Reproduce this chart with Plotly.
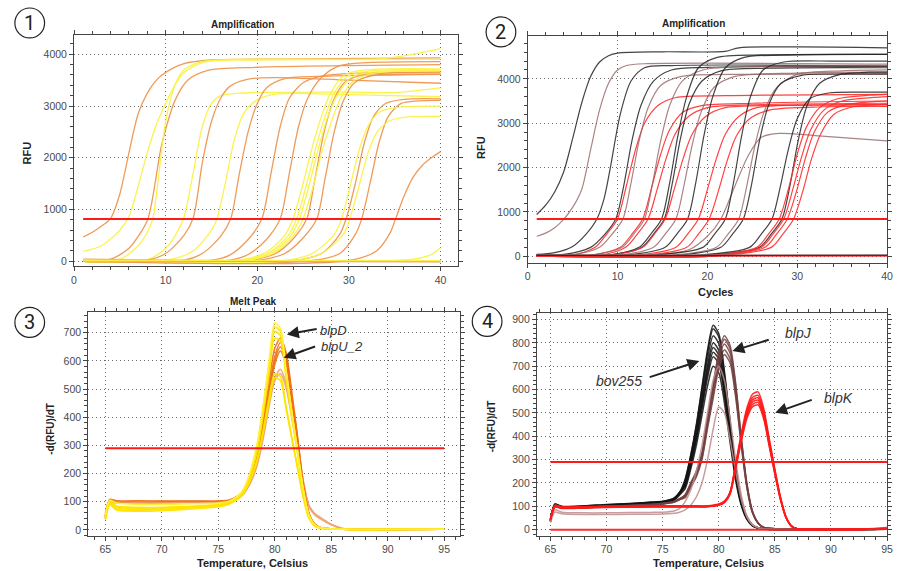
import plotly.graph_objects as go

# ---------------- DATA ----------------
# Panel 1: amplification (cycles, RFU) – key points
AMP1_GROUP = ["orange", "yellow", "orange", "yellow", "yellow", "orange", "yellow", "orange",
              "orange", "orange", "orange", "orange", "yellow", "yellow", "yellow", "yellow",
              "orange", "orange", "yellow", "yellow", "orange", "yellow", "orange", "orange", "yellow"]
AMP1_X = [
    [1, 2, 3, 4, 5, 6, 7, 8, 9, 10, 12, 15, 25, 40],
    [1, 3, 5, 6, 7, 8, 9, 10, 11, 12, 14, 17, 33, 36, 40],
    [1, 4, 6, 7, 8, 8.5, 9.5, 10, 11, 12.4, 14.6, 20, 40],
    [1, 5, 7, 8, 8.6, 9, 10, 11, 12, 14, 20, 40],
    [1, 8, 10, 11, 12, 13, 14, 15, 16, 18, 30, 35, 40],
    [1, 8, 10, 12, 13, 14, 15, 16, 17, 19, 22, 30, 40],
    [1, 10, 13, 15, 15.6, 16.5, 17.5, 18.5, 20, 22, 30, 40],
    [1, 12, 14, 16, 17.1, 18, 19, 20, 21, 23, 28, 40],
    [1, 15, 17, 19, 20.5, 21.5, 22.5, 23.5, 25, 27, 32, 40],
    [1, 17, 19, 21, 22.5, 23.5, 24.5, 25.5, 27, 29, 32, 40],
    [1, 19, 22, 24, 25.4, 26.3, 27.3, 28.3, 29.5, 31.5, 35, 40],
    [1, 20, 23, 25, 26.5, 27.4, 28.4, 29.4, 30.6, 32.6, 36, 40],
    [1, 18, 21, 23, 23.9, 25, 26, 27, 28, 29.5, 32, 40],
    [1, 18.4, 21.4, 23.4, 24.3, 25.4, 26.4, 27.4, 28.4, 29.9, 32.4, 40],
    [1, 18.7, 21.7, 23.7, 24.6, 25.7, 26.7, 27.7, 28.7, 30.2, 32.7, 40],
    [1, 19, 22, 24, 25, 26.1, 27.1, 28.1, 29.1, 30.6, 33, 40],
    [1, 24, 27, 29, 29.7, 30.7, 31.7, 32.7, 34, 36, 40],
    [1, 26, 29, 30.7, 31.4, 32.3, 33.3, 34.3, 35.7, 37.5, 40],
    [1, 23, 26, 28.4, 29.2, 30.2, 31.2, 32.2, 33.5, 35.5, 40],
    [1, 24, 27, 29.4, 30.1, 31.1, 32.1, 33.1, 34.5, 36.5, 40],
    [1, 30, 33, 34.5, 35.1, 36, 37, 38, 39, 40],
    [1, 34, 37, 39, 40],
    [1, 10, 20, 30, 40],
    [1, 20, 40],
    [1, 20, 40],
]
AMP1_Y = [
    [470, 560, 680, 830, 1300, 2100, 2850, 3250, 3500, 3650, 3820, 3890, 3910, 3930],
    [190, 300, 600, 870, 1450, 2100, 2650, 3050, 3400, 3650, 3840, 3900, 3910, 3970, 4110],
    [5, 40, 250, 480, 790, 1150, 2200, 2550, 3100, 3500, 3690, 3750, 3800],
    [0, 40, 300, 560, 820, 1300, 2700, 3400, 3700, 3860, 3890, 3900],
    [0, 30, 250, 480, 850, 1700, 2600, 3050, 3200, 3250, 3270, 3260, 3350],
    [0, 20, 150, 500, 830, 1900, 2700, 3150, 3380, 3520, 3550, 3500, 3440],
    [0, 20, 200, 600, 820, 1500, 2350, 2850, 3120, 3230, 3220, 3180],
    [0, 20, 150, 480, 820, 1650, 2500, 3050, 3350, 3530, 3580, 3610],
    [0, 20, 120, 420, 820, 1700, 2600, 3150, 3450, 3580, 3640, 3660],
    [0, 20, 130, 420, 820, 1700, 2600, 3150, 3550, 3780, 3840, 3860],
    [0, 15, 150, 450, 820, 1600, 2500, 3100, 3450, 3600, 3640, 3640],
    [0, 15, 150, 450, 820, 1600, 2500, 3100, 3450, 3590, 3610, 3610],
    [0, 20, 180, 500, 820, 1500, 2200, 2800, 3250, 3600, 3700, 3720],
    [0, 20, 180, 500, 820, 1500, 2200, 2800, 3250, 3580, 3680, 3700],
    [0, 20, 180, 500, 820, 1500, 2200, 2800, 3200, 3550, 3660, 3690],
    [0, 20, 180, 500, 820, 1450, 2150, 2700, 3150, 3500, 3640, 3680],
    [0, 15, 150, 520, 820, 1500, 2300, 2800, 3050, 3130, 3140],
    [0, 15, 150, 520, 820, 1500, 2300, 2800, 3050, 3100, 3110],
    [0, 15, 150, 520, 820, 1500, 2200, 2650, 2900, 2980, 3000],
    [0, 15, 150, 520, 820, 1450, 2100, 2500, 2720, 2790, 2800],
    [0, 15, 200, 550, 820, 1250, 1620, 1850, 2000, 2120],
    [0, 10, 40, 130, 260],
    [40, 20, 10, 5, 0],
    [10, 0, -10],
    [20, 15, 10],
]
AMP1_THRESHOLD = 815

# Panel 2: amplification (cycles, RFU)
AMP2_GROUP = ["black", "brown", "black", "black", "red", "brown", "red", "brown", "red", "black",
              "black", "red", "brown", "black", "red", "red", "brown", "black", "brown", "black",
              "black", "black", "red", "red", "red", "red", "red", "brown", "black"]
AMP2_X = [
    [1, 2, 3, 4, 5, 6, 7, 8, 9, 10, 15, 22, 23.5, 30, 40],
    [1, 2, 3, 4, 5, 6, 7, 8, 9, 10, 11, 13, 40],
    [1, 3, 5, 6.5, 7.7, 8.5, 9.2, 10.3, 11.5, 13, 16, 40],
    [1, 4, 7, 8.6, 9.8, 10.7, 11.6, 12.6, 14, 16, 20, 40],
    [1, 5, 7.5, 8.8, 10, 11, 12, 13, 14.5, 16.5, 22, 40],
    [1, 5, 8, 9.4, 10.6, 11.5, 12.4, 13.4, 14.8, 17, 25, 40],
    [1, 7, 10.3, 11.6, 12.8, 13.8, 14.8, 15.8, 17.3, 19.5, 25, 40],
    [1, 7, 10.5, 11.8, 13, 13.9, 14.8, 15.8, 17.2, 19.5, 26, 40],
    [1, 8, 10.9, 12.2, 13.4, 14.4, 15.4, 16.4, 17.9, 20, 26, 40],
    [1, 9, 12.4, 13.7, 14.9, 15.8, 16.7, 17.7, 19, 21, 26, 40],
    [1, 9, 12.7, 14, 15.2, 16.1, 17, 18, 19.4, 21.5, 27, 40],
    [1, 9, 12.8, 14.1, 15.3, 16.3, 17.3, 18.3, 19.8, 22, 28, 40],
    [1, 10, 14, 15.3, 16.5, 17.4, 18.3, 19.3, 20.7, 23, 30, 40],
    [1, 11, 15.3, 16.6, 17.8, 18.7, 19.6, 20.6, 22, 24, 30, 40],
    [1, 12, 16.5, 17.8, 19, 20, 21, 22, 23.5, 25.5, 32, 40],
    [1, 13, 17.7, 19, 20.2, 21.2, 22.2, 23.2, 24.7, 27, 33, 40],
    [1, 14, 18, 20, 21.5, 23, 24.5, 26, 28, 32, 40],
    [1, 14, 19.5, 20.8, 22, 22.9, 23.8, 24.8, 26.2, 28.5, 34, 40],
    [1, 16, 21, 22.3, 23.5, 24.4, 25.3, 26.3, 27.7, 30, 35, 40],
    [1, 17, 21.5, 22.8, 24, 24.9, 25.8, 26.8, 28.2, 30.5, 35, 40],
    [1, 19, 24.7, 26, 27.2, 28.1, 29, 30, 31.4, 33.5, 37, 40],
    [1, 20, 25.8, 27.1, 28.3, 29.2, 30.1, 31.1, 32.5, 34.8, 38, 40],
    [1, 20, 25.5, 26.8, 28, 29, 30, 31, 32.5, 34.5, 38, 40],
    [1, 20, 26, 27.3, 28.5, 29.5, 30.5, 31.5, 33, 35, 38.5, 40],
    [1, 21, 26.4, 27.7, 28.9, 29.9, 30.9, 31.9, 33.4, 35.5, 39, 40],
    [1, 21, 27.1, 28.4, 29.6, 30.6, 31.6, 32.6, 34.1, 36.2, 39, 40],
    [1, 20, 40],
    [1, 20, 40],
    [1, 20, 40],
]
AMP2_Y = [
    [940, 1150, 1450, 1900, 2650, 3450, 4050, 4380, 4520, 4580, 4610, 4620, 4700, 4720, 4700],
    [450, 520, 640, 830, 1100, 1500, 2400, 3300, 3900, 4200, 4300, 4340, 4330],
    [40, 80, 220, 500, 840, 1300, 2000, 3200, 3950, 4250, 4300, 4290],
    [30, 40, 200, 500, 840, 1600, 2600, 3400, 3950, 4200, 4260, 4280],
    [20, 25, 200, 500, 840, 1600, 2400, 3000, 3400, 3580, 3620, 3650],
    [20, 30, 200, 500, 840, 1650, 2600, 3350, 3850, 4050, 4100, 4100],
    [10, 20, 200, 500, 840, 1550, 2300, 2850, 3250, 3400, 3450, 3500],
    [10, 25, 200, 500, 840, 1650, 2600, 3400, 3950, 4200, 4280, 4300],
    [10, 20, 200, 500, 840, 1500, 2200, 2750, 3150, 3350, 3420, 3450],
    [20, 25, 200, 500, 840, 1650, 2700, 3600, 4250, 4480, 4540, 4550],
    [20, 25, 200, 500, 840, 1650, 2650, 3450, 3950, 4180, 4240, 4250],
    [10, 20, 200, 500, 840, 1500, 2200, 2750, 3150, 3350, 3400, 3420],
    [10, 20, 200, 500, 840, 1600, 2500, 3250, 3800, 4050, 4130, 4150],
    [20, 25, 200, 500, 840, 1650, 2700, 3600, 4250, 4480, 4540, 4550],
    [10, 20, 200, 500, 840, 1500, 2200, 2750, 3150, 3350, 3410, 3420],
    [10, 20, 200, 500, 840, 1450, 2150, 2700, 3100, 3300, 3370, 3380],
    [10, 20, 150, 450, 840, 1550, 2250, 2680, 2770, 2720, 2600],
    [20, 25, 200, 500, 840, 1650, 2700, 3600, 4200, 4380, 4400, 4400],
    [10, 20, 200, 500, 840, 1600, 2500, 3250, 3800, 4100, 4180, 4200],
    [20, 25, 200, 500, 840, 1600, 2600, 3400, 3900, 4080, 4110, 4110],
    [20, 25, 200, 500, 840, 1550, 2400, 3100, 3550, 3680, 3700, 3700],
    [20, 25, 200, 500, 840, 1600, 2600, 3400, 3900, 4100, 4150, 4150],
    [0, 10, 200, 500, 840, 1500, 2300, 2900, 3350, 3550, 3630, 3650],
    [0, 10, 200, 500, 840, 1500, 2250, 2850, 3300, 3500, 3580, 3600],
    [0, 10, 200, 500, 840, 1450, 2200, 2800, 3250, 3420, 3490, 3500],
    [0, 10, 200, 500, 840, 1450, 2200, 2750, 3200, 3370, 3420, 3430],
    [0, 0, 0],
    [35, 30, 30],
    [20, 15, 20],
]
AMP2_THRESHOLD = 840

# Panel 3: melt peak (temperature, -d(RFU)/dT)
MELT3_T = [65, 65.4, 66, 68, 70, 72, 74, 75, 76, 77, 77.5, 78, 78.5, 79, 79.5, 80,
           80.5, 81, 81.5, 82, 82.5, 83, 83.5, 84, 85, 86, 88, 95]
MELT3_GROUP = ["orange", "orange", "orange", "light", "light", "orange",
               "yellow", "yellow", "yellow", "yellow", "yellow", "bright"]
MELT3_Y = [
    [50, 105, 100, 100, 100, 100, 100, 100, 105, 125, 155, 200, 270, 380, 500, 615, 665, 620, 480, 330, 170, 60, 22, 8, 3, 2, 1, 2],
    [45, 100, 98, 98, 98, 98, 99, 100, 104, 122, 150, 195, 262, 370, 490, 600, 650, 605, 470, 322, 165, 58, 20, 8, 3, 2, 1, 2],
    [40, 98, 96, 97, 97, 98, 98, 99, 103, 120, 148, 192, 258, 362, 480, 588, 635, 590, 460, 315, 160, 56, 20, 8, 3, 2, 1, 2],
    [50, 105, 100, 100, 100, 100, 100, 100, 104, 120, 145, 185, 245, 340, 450, 540, 570, 520, 410, 300, 180, 90, 60, 45, 20, 5, 2, 2],
    [45, 100, 95, 95, 95, 96, 97, 98, 102, 118, 142, 180, 238, 330, 440, 530, 555, 505, 400, 290, 175, 85, 55, 40, 18, 5, 2, 2],
    [60, 108, 103, 103, 102, 102, 102, 102, 106, 128, 160, 210, 285, 400, 530, 645, 680, 630, 490, 335, 172, 62, 22, 8, 3, 2, 1, 2],
    [40, 95, 80, 75, 78, 82, 85, 90, 100, 130, 165, 225, 310, 440, 590, 720, 705, 560, 420, 285, 150, 55, 20, 8, 3, 2, 1, 2],
    [50, 100, 85, 80, 80, 83, 86, 90, 100, 128, 160, 218, 300, 430, 575, 705, 690, 550, 410, 280, 145, 52, 18, 7, 3, 2, 1, 2],
    [35, 90, 72, 70, 72, 78, 82, 86, 96, 125, 158, 212, 290, 415, 555, 680, 672, 540, 400, 275, 140, 50, 18, 7, 3, 2, 1, 2],
    [45, 95, 78, 72, 74, 78, 82, 86, 95, 120, 150, 195, 260, 360, 470, 555, 545, 440, 330, 225, 120, 45, 15, 6, 3, 2, 1, 2],
    [40, 90, 70, 66, 68, 72, 78, 82, 92, 118, 148, 192, 255, 350, 455, 540, 530, 430, 325, 222, 118, 44, 15, 6, 3, 2, 1, 2],
    [55, 105, 95, 90, 90, 92, 93, 95, 102, 130, 168, 230, 318, 450, 600, 735, 715, 565, 420, 285, 148, 54, 19, 7, 3, 2, 1, 2],
]
MELT3_THRESHOLD = 290

# Panel 4: melt peak, low-melting products (bov255, blpJ)
MELT4_T = [65, 65.4, 66, 68, 70, 72, 74, 75, 76, 76.5, 77, 77.5, 78, 78.5, 79, 79.5,
           80, 80.5, 81, 81.5, 82, 82.5, 83, 83.5, 84, 86, 95]
MELT4_GROUP = ["black"] * 8 + ["brown"] * 5 + ["light"] * 2
MELT4_Y = [
    [40, 110, 100, 102, 108, 112, 118, 122, 135, 160, 215, 320, 450, 610, 770, 875, 840, 680, 470, 265, 130, 55, 20, 8, 3, 1, 2],
    [45, 105, 95, 98, 104, 108, 114, 118, 130, 155, 212, 315, 443, 600, 757, 860, 826, 668, 462, 260, 128, 54, 20, 8, 3, 1, 2],
    [35, 100, 92, 95, 100, 105, 110, 115, 128, 152, 205, 305, 428, 580, 731, 830, 797, 645, 446, 252, 123, 52, 19, 8, 3, 1, 2],
    [42, 108, 98, 100, 106, 110, 116, 120, 132, 158, 198, 295, 412, 558, 704, 800, 768, 622, 430, 242, 119, 50, 18, 7, 3, 1, 2],
    [38, 104, 96, 99, 104, 109, 115, 119, 131, 156, 193, 288, 402, 544, 686, 780, 748, 606, 419, 236, 116, 49, 18, 7, 3, 1, 2],
    [44, 109, 99, 101, 107, 111, 117, 121, 134, 159, 188, 280, 392, 530, 669, 760, 730, 591, 408, 230, 113, 48, 17, 7, 3, 1, 2],
    [36, 102, 94, 97, 102, 107, 112, 117, 129, 153, 183, 272, 381, 516, 651, 740, 711, 575, 398, 224, 110, 47, 17, 7, 3, 1, 2],
    [40, 100, 92, 94, 98, 102, 108, 112, 124, 148, 175, 258, 360, 488, 616, 700, 672, 544, 376, 212, 104, 44, 16, 6, 2, 1, 2],
    [40, 105, 95, 97, 100, 103, 108, 112, 120, 132, 150, 200, 250, 330, 480, 620, 760, 830, 790, 630, 400, 200, 80, 30, 10, 2, 2],
    [38, 103, 94, 96, 99, 102, 107, 111, 119, 130, 148, 197, 246, 325, 472, 610, 748, 815, 776, 619, 393, 197, 79, 29, 10, 2, 2],
    [42, 104, 96, 98, 101, 104, 109, 113, 121, 133, 145, 192, 240, 317, 460, 595, 730, 795, 757, 604, 383, 192, 77, 29, 10, 2, 2],
    [36, 100, 92, 94, 97, 100, 105, 109, 117, 128, 141, 186, 232, 307, 446, 576, 707, 770, 733, 585, 371, 186, 74, 28, 9, 2, 2],
    [39, 102, 94, 95, 98, 101, 106, 110, 118, 129, 137, 181, 226, 299, 434, 562, 689, 750, 715, 570, 362, 181, 72, 27, 9, 2, 2],
    [35, 85, 75, 72, 72, 73, 74, 75, 80, 90, 120, 170, 250, 360, 500, 640, 700, 640, 480, 300, 150, 60, 22, 8, 3, 1, 2],
    [30, 75, 68, 65, 65, 66, 66, 67, 70, 75, 85, 105, 140, 200, 300, 430, 525, 500, 390, 250, 130, 55, 20, 8, 3, 1, 2],
]
# Panel 4: high-melting product (blpK)
MELT4R_T = [65, 65.4, 66, 68, 70, 72, 74, 76, 78, 79, 80, 80.5, 81, 81.5, 82, 82.5,
            83, 83.5, 84, 84.5, 85, 85.5, 86, 86.5, 87, 90, 95]
MELT4R_Y = [
    [45, 100, 95, 96, 98, 99, 100, 100, 100, 100, 108, 120, 160, 280, 410, 520, 580, 590, 520, 390, 260, 140, 55, 15, 4, 1, 3],
    [42, 98, 93, 95, 97, 98, 99, 99, 99, 99, 106, 118, 157, 275, 402, 508, 566, 575, 508, 381, 254, 137, 54, 15, 4, 1, 3],
    [48, 104, 98, 99, 100, 101, 102, 102, 102, 102, 110, 122, 158, 272, 396, 500, 556, 565, 500, 375, 250, 135, 53, 14, 4, 1, 3],
    [40, 96, 91, 93, 95, 96, 97, 97, 97, 98, 105, 116, 153, 266, 389, 492, 546, 555, 492, 368, 245, 132, 52, 14, 4, 1, 3],
    [46, 102, 96, 97, 99, 100, 101, 101, 101, 101, 108, 119, 154, 264, 383, 484, 536, 545, 484, 362, 241, 130, 51, 14, 4, 1, 3],
    [44, 99, 94, 95, 96, 97, 98, 98, 98, 99, 106, 117, 151, 258, 376, 475, 526, 535, 475, 356, 237, 128, 50, 14, 4, 1, 3],
]
MELT4_FLAT_T = [65, 80, 93, 95]
MELT4_FLAT_Y = [0, 0, 2, 8]
MELT4_THRESHOLD = 290

# ---------------- STYLE ----------------
FONT = "Liberation Sans, Arial, sans-serif"
C1 = {"orange": "rgba(238,150,80,0.95)", "yellow": "rgba(250,242,70,0.95)"}
C2 = {"black": "rgba(35,35,35,0.85)", "brown": "rgba(150,100,100,0.8)", "red": "rgba(255,45,45,0.9)"}
C3 = {"orange": "rgba(240,112,20,0.9)", "light": "rgba(238,160,110,0.9)",
      "yellow": "rgba(255,228,0,0.95)", "bright": "rgba(255,240,60,1)"}
C4 = {"black": "rgba(20,20,20,0.85)", "brown": "rgba(115,65,65,0.85)", "light": "rgba(190,140,140,0.85)"}
C4_RED = "rgba(255,25,25,0.9)"
THRESH_COLOR = "#ff1a1a"

fig = go.Figure()


def add_curves(xs_list, ys_list, colors, xa, ya, width, smooth):
    for xs, ys, col in zip(xs_list, ys_list, colors):
        fig.add_trace(go.Scatter(x=xs, y=ys, mode="lines", xaxis=xa, yaxis=ya,
                                 line=dict(color=col, width=width, shape="spline", smoothing=smooth),
                                 showlegend=False, hoverinfo="skip"))


def add_threshold(x0, x1, yv, xa, ya):
    fig.add_trace(go.Scatter(x=[x0, x1], y=[yv, yv], mode="lines", xaxis=xa, yaxis=ya,
                             line=dict(color=THRESH_COLOR, width=2), showlegend=False, hoverinfo="skip"))


add_curves(AMP1_X, AMP1_Y, [C1[g] for g in AMP1_GROUP], "x", "y", 1.3, 0.8)
add_threshold(1, 40, AMP1_THRESHOLD, "x", "y")

add_curves(AMP2_X, AMP2_Y, [C2[g] for g in AMP2_GROUP], "x2", "y2", 1.2, 0.8)
add_threshold(1, 40, AMP2_THRESHOLD, "x2", "y2")

add_curves([MELT3_T] * len(MELT3_Y), MELT3_Y, [C3[g] for g in MELT3_GROUP], "x3", "y3", 1.6, 0.7)
add_threshold(65, 95, MELT3_THRESHOLD, "x3", "y3")

add_curves([MELT4_T] * len(MELT4_Y), MELT4_Y, [C4[g] for g in MELT4_GROUP], "x4", "y4", 1.5, 0.7)
add_curves([MELT4R_T] * len(MELT4R_Y), MELT4R_Y, [C4_RED] * len(MELT4R_Y), "x4", "y4", 1.5, 0.7)
add_curves([MELT4_FLAT_T], [MELT4_FLAT_Y], [C4_RED], "x4", "y4", 2, 0.7)
add_threshold(65, 95, MELT4_THRESHOLD, "x4", "y4")


def ax(domain, rng, dtick, mdtick, anchor, tick0=0):
    return dict(domain=domain, range=rng, anchor=anchor, dtick=dtick, tick0=tick0,
                showline=True, linecolor="#444", linewidth=1, mirror="ticks",
                ticks="outside", ticklen=4, tickwidth=1, tickcolor="#444",
                minor=dict(dtick=mdtick, tick0=tick0, ticks="outside", ticklen=3,
                           tickcolor="#444", showgrid=False),
                showgrid=True, gridcolor="#6a6a6a", griddash="1px,3px", gridwidth=1,
                zeroline=False, tickfont=dict(size=10.5, color="#4a4a4a", family=FONT))


fig.update_layout(
    width=900, height=571, margin=dict(l=0, r=0, t=0, b=0),
    paper_bgcolor="white", plot_bgcolor="white",
    xaxis=ax([0.0797, 0.5111], [0, 41.95], 10, 2, "y"),
    yaxis=ax([0.5329, 0.9387], [-96, 4374], 1000, 200, "x"),
    xaxis2=ax([0.5889, 0.9922], [0, 40], 10, 2, "y2"),
    yaxis2=ax([0.5389, 0.9370], [-149, 4968], 1000, 200, "x2"),
    xaxis3=ax([0.0956, 0.5133], [63.48, 96.43], 5, 1, "y3", 65),
    yaxis3=ax([0.0601, 0.4524], [-21, 773], 100, 20, "x3"),
    xaxis4=ax([0.5992, 0.9922], [63.79, 95], 5, 1, "y4", 65),
    yaxis4=ax([0.0601, 0.4501], [-26, 926], 100, 20, "x4"),
)


def px(x):
    return x / 900.0


def py(y):
    return 1 - y / 571.0


ann = []


def label(x, y, text, size=10, angle=0):
    ann.append(dict(x=px(x), y=py(y), xref="paper", yref="paper", text="<b>%s</b>" % text,
                    showarrow=False, textangle=angle, xanchor="center", yanchor="middle",
                    font=dict(size=size, color="#222", family=FONT)))


label(242, 25, "Amplification", 10)
label(697, 24, "Amplification", 10)
label(253, 302, "Melt Peak", 10)
label(720, 293, "Cycles", 11)
label(252, 564, "Temperature, Celsius", 11)
label(713, 564, "Temperature, Celsius", 11)
label(24, 153, "RFU", 11, angle=-90)
label(483, 148, "RFU", 11, angle=-90)
label(48, 430, "-d(RFU)/dT", 10, angle=-90)
label(493, 427, "-d(RFU)/dT", 10, angle=-90)

circles = [(27, 23, "1"), (503, 32, "2"), (27, 323, "3"), (489, 322, "4")]
for cx, cy, t in circles:
    fig.add_shape(type="circle", xref="paper", yref="paper",
                  x0=px(cx - 15), x1=px(cx + 15), y0=py(cy + 15), y1=py(cy - 15),
                  line=dict(color="#222", width=1.2))
    ann.append(dict(x=px(cx), y=py(cy), xref="paper", yref="paper", text=t, showarrow=False,
                    xanchor="center", yanchor="middle",
                    font=dict(size=20, color="#222", family="Roboto, " + FONT)))

# gene labels with arrows (tip, tail, text position in data units)
GENE_LABELS = [
    ("x3", "y3", "blpD", (81.07, 694), (83.84, 714), (85.17, 708), 13),
    ("x3", "y3", "blpU_2", (80.78, 611), (83.70, 653), (85.96, 650), 13),
    ("x4", "y4", "blpJ", (81.21, 765), (84.59, 815), (87.11, 843), 14),
    ("x4", "y4", "bov255", (78.27, 722), (73.71, 651), (71.13, 637), 14),
    ("x4", "y4", "blpK", (85.03, 501), (88.42, 558), (90.64, 566), 14),
]
for xr, yr, name, tip, tail, pos, fs in GENE_LABELS:
    ann.append(dict(x=tip[0], y=tip[1], xref=xr, yref=yr, ax=tail[0], ay=tail[1],
                    axref=xr, ayref=yr, text="", showarrow=True, arrowhead=2,
                    arrowsize=1.2, arrowwidth=2, arrowcolor="#222"))
    ann.append(dict(x=pos[0], y=pos[1], xref=xr, yref=yr, text="<i>%s</i>" % name,
                    showarrow=False, xanchor="center", yanchor="middle",
                    font=dict(size=fs, color="#333", family=FONT)))

fig.update_layout(annotations=ann)
fig.write_html("out.html", config={"displayModeBar": False},
               post_script="document.body.style.margin='0px';document.body.style.overflow='hidden';")
